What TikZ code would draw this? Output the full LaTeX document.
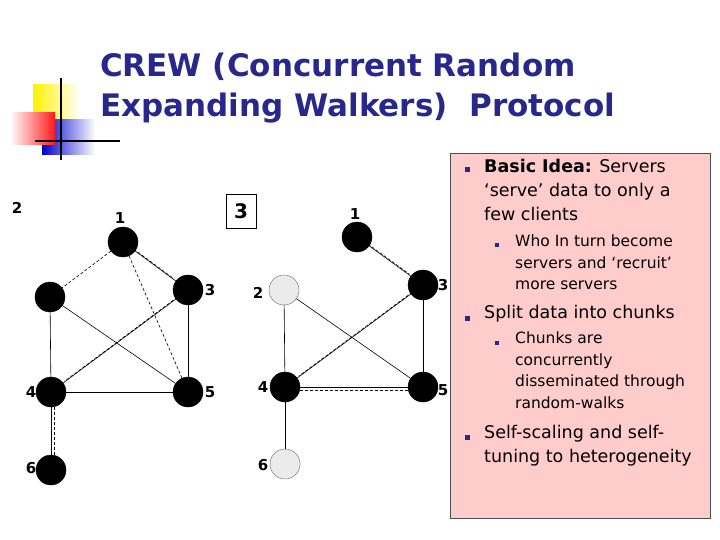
\documentclass[tikz,border=0pt]{standalone}
\usepackage{fontspec}
\setmainfont{DejaVu Sans}
\definecolor{ttl}{RGB}{40,40,140}
\definecolor{pnk}{RGB}{255,204,204}
\definecolor{gry}{RGB}{235,235,235}
\begin{document}
\begin{tikzpicture}[x=1pt,y=-1pt,
  v/.style={circle,fill=black,draw=black,minimum size=30pt,inner sep=0pt},
  g/.style={circle,fill=gry,draw=black!60,minimum size=30pt,inner sep=0pt},
  lb/.style={font=\fontsize{15}{15}\selectfont\bfseries,inner sep=0pt},
  e/.style={line width=0.6pt},
  d/.style={line width=0.6pt,dash pattern=on 3pt off 2pt},
  bt/.style={font=\fontsize{17.5}{24}\selectfont,align=left,anchor=north west,inner sep=0pt},
  st/.style={font=\fontsize{15.5}{21.5}\selectfont,align=left,anchor=north west,inner sep=0pt},
  bul/.style={fill=ttl,minimum size=5pt,inner sep=0pt}]
\useasboundingbox (0,0) rectangle (720,540);
\fill[white] (0,0) rectangle (720,540);
% logo
\shade[left color=yellow!90!orange,right color=white] (33,85) rectangle (80,130);
\shade[left color=blue!80!black,right color=white] (42,120) rectangle (95,155);
\shade[left color=white,right color=red!90] (10,113) rectangle (55,145);
\draw[line width=1.3pt] (61,78) -- (61,160);
\draw[line width=1.3pt] (35,141) -- (120,141);
\node[anchor=west,text=ttl,font=\fontsize{31}{40}\selectfont\bfseries,align=left,inner sep=0pt] (title) at (100,88) {CREW (Concurrent Random\\Expanding Walkers)\ \ Protocol};
% panel
\node[draw=black!70,fill=pnk,minimum width=260pt,minimum height=365pt,anchor=north west,inner sep=0pt] (panel) at (450,153) {};
\node[bul] (b1) at (467,170) {};
\node[bt] (t1) at (484,159) {\textbf{Basic Idea:} Servers\\‘serve’ data to only a\\few clients};
\node[bul,minimum size=4pt] (b2) at (497,245) {};
\node[st] (t2) at (515,235) {Who In turn become\\servers and ‘recruit’\\more servers};
\node[bul] (b3) at (467,318) {};
\node[bt] (t3) at (484,305) {Split data into chunks};
\node[bul,minimum size=4pt] (b4) at (497,343) {};
\node[st] (t4) at (515,332) {Chunks are\\concurrently\\disseminated through\\random-walks};
\node[bul] (b5) at (467,437) {};
\node[bt] (t5) at (484,425) {Self-scaling and self-\\tuning to heterogeneity};
% left graph
\node[lb] (L2lab) at (17,208) {2};
\node[v] (a1) at (123,242) {};
\node[v] (a2) at (50,297) {};
\node[v] (a3) at (188,290) {};
\node[v] (a4) at (51,392) {};
\node[v] (a5) at (188,392) {};
\node[v] (a6) at (51,470) {};
\node[lb] (l1) at (120,218) {1};
\node[lb] (l3) at (210,290) {3};
\node[lb] (l4) at (31,392) {4};
\node[lb] (l5) at (210,392) {5};
\node[lb] (l6) at (31,468) {6};
\draw[d] (a1) -- (a2);
\draw[e] (a1) -- (a3);
\draw[d,transform canvas={xshift=-1.5pt,yshift=2pt}] (a1) -- (a3);
\draw[d] (a1) -- (a5);
\draw[e] (a2) -- (a4);
\draw[e] (a2) -- (a5);
\draw[e] (a3) -- (a4);
\draw[d,transform canvas={xshift=1.5pt,yshift=1.8pt}] (a3) -- (a4);
\draw[e] (a3) -- (a5);
\draw[e] (a4) -- (a5);
\draw[e] (a4) -- (a6);
\draw[d,transform canvas={xshift=3pt}] (a4) -- (a6);
% box 3
\node[draw=black,font=\fontsize{20}{20}\selectfont\bfseries,minimum width=30pt,minimum height=34pt,inner sep=0pt] (box) at (241,211) {3};
% right graph
\node[v] (b1n) at (357,237) {};
\node[g] (b2n) at (284,290) {};
\node[v] (b3n) at (423,285) {};
\node[v] (b4n) at (285,387) {};
\node[v] (b5n) at (423,387) {};
\node[g] (b6n) at (285,464) {};
\node[lb] (m1) at (355,214) {1};
\node[lb] (m2) at (258,293) {2};
\node[lb] (m3) at (443,285) {3};
\node[lb] (m4) at (263,387) {4};
\node[lb] (m5) at (443,390) {5};
\node[lb] (m6) at (263,465) {6};
\draw[e] (b1n) -- (b3n);
\draw[d,transform canvas={xshift=-1.5pt,yshift=2pt}] (b1n) -- (b3n);
\draw[e] (b2n) -- (b4n);
\draw[e] (b2n) -- (b5n);
\draw[e] (b3n) -- (b4n);
\draw[d,transform canvas={xshift=1.5pt,yshift=1.8pt}] (b3n) -- (b4n);
\draw[e] (b3n) -- (b5n);
\draw[d,transform canvas={yshift=-3pt}] (b4n) -- (b5n);
\draw[e] (b4n) -- (b5n);
\draw[e] (b4n) -- (b6n);
\end{tikzpicture}
\end{document}
